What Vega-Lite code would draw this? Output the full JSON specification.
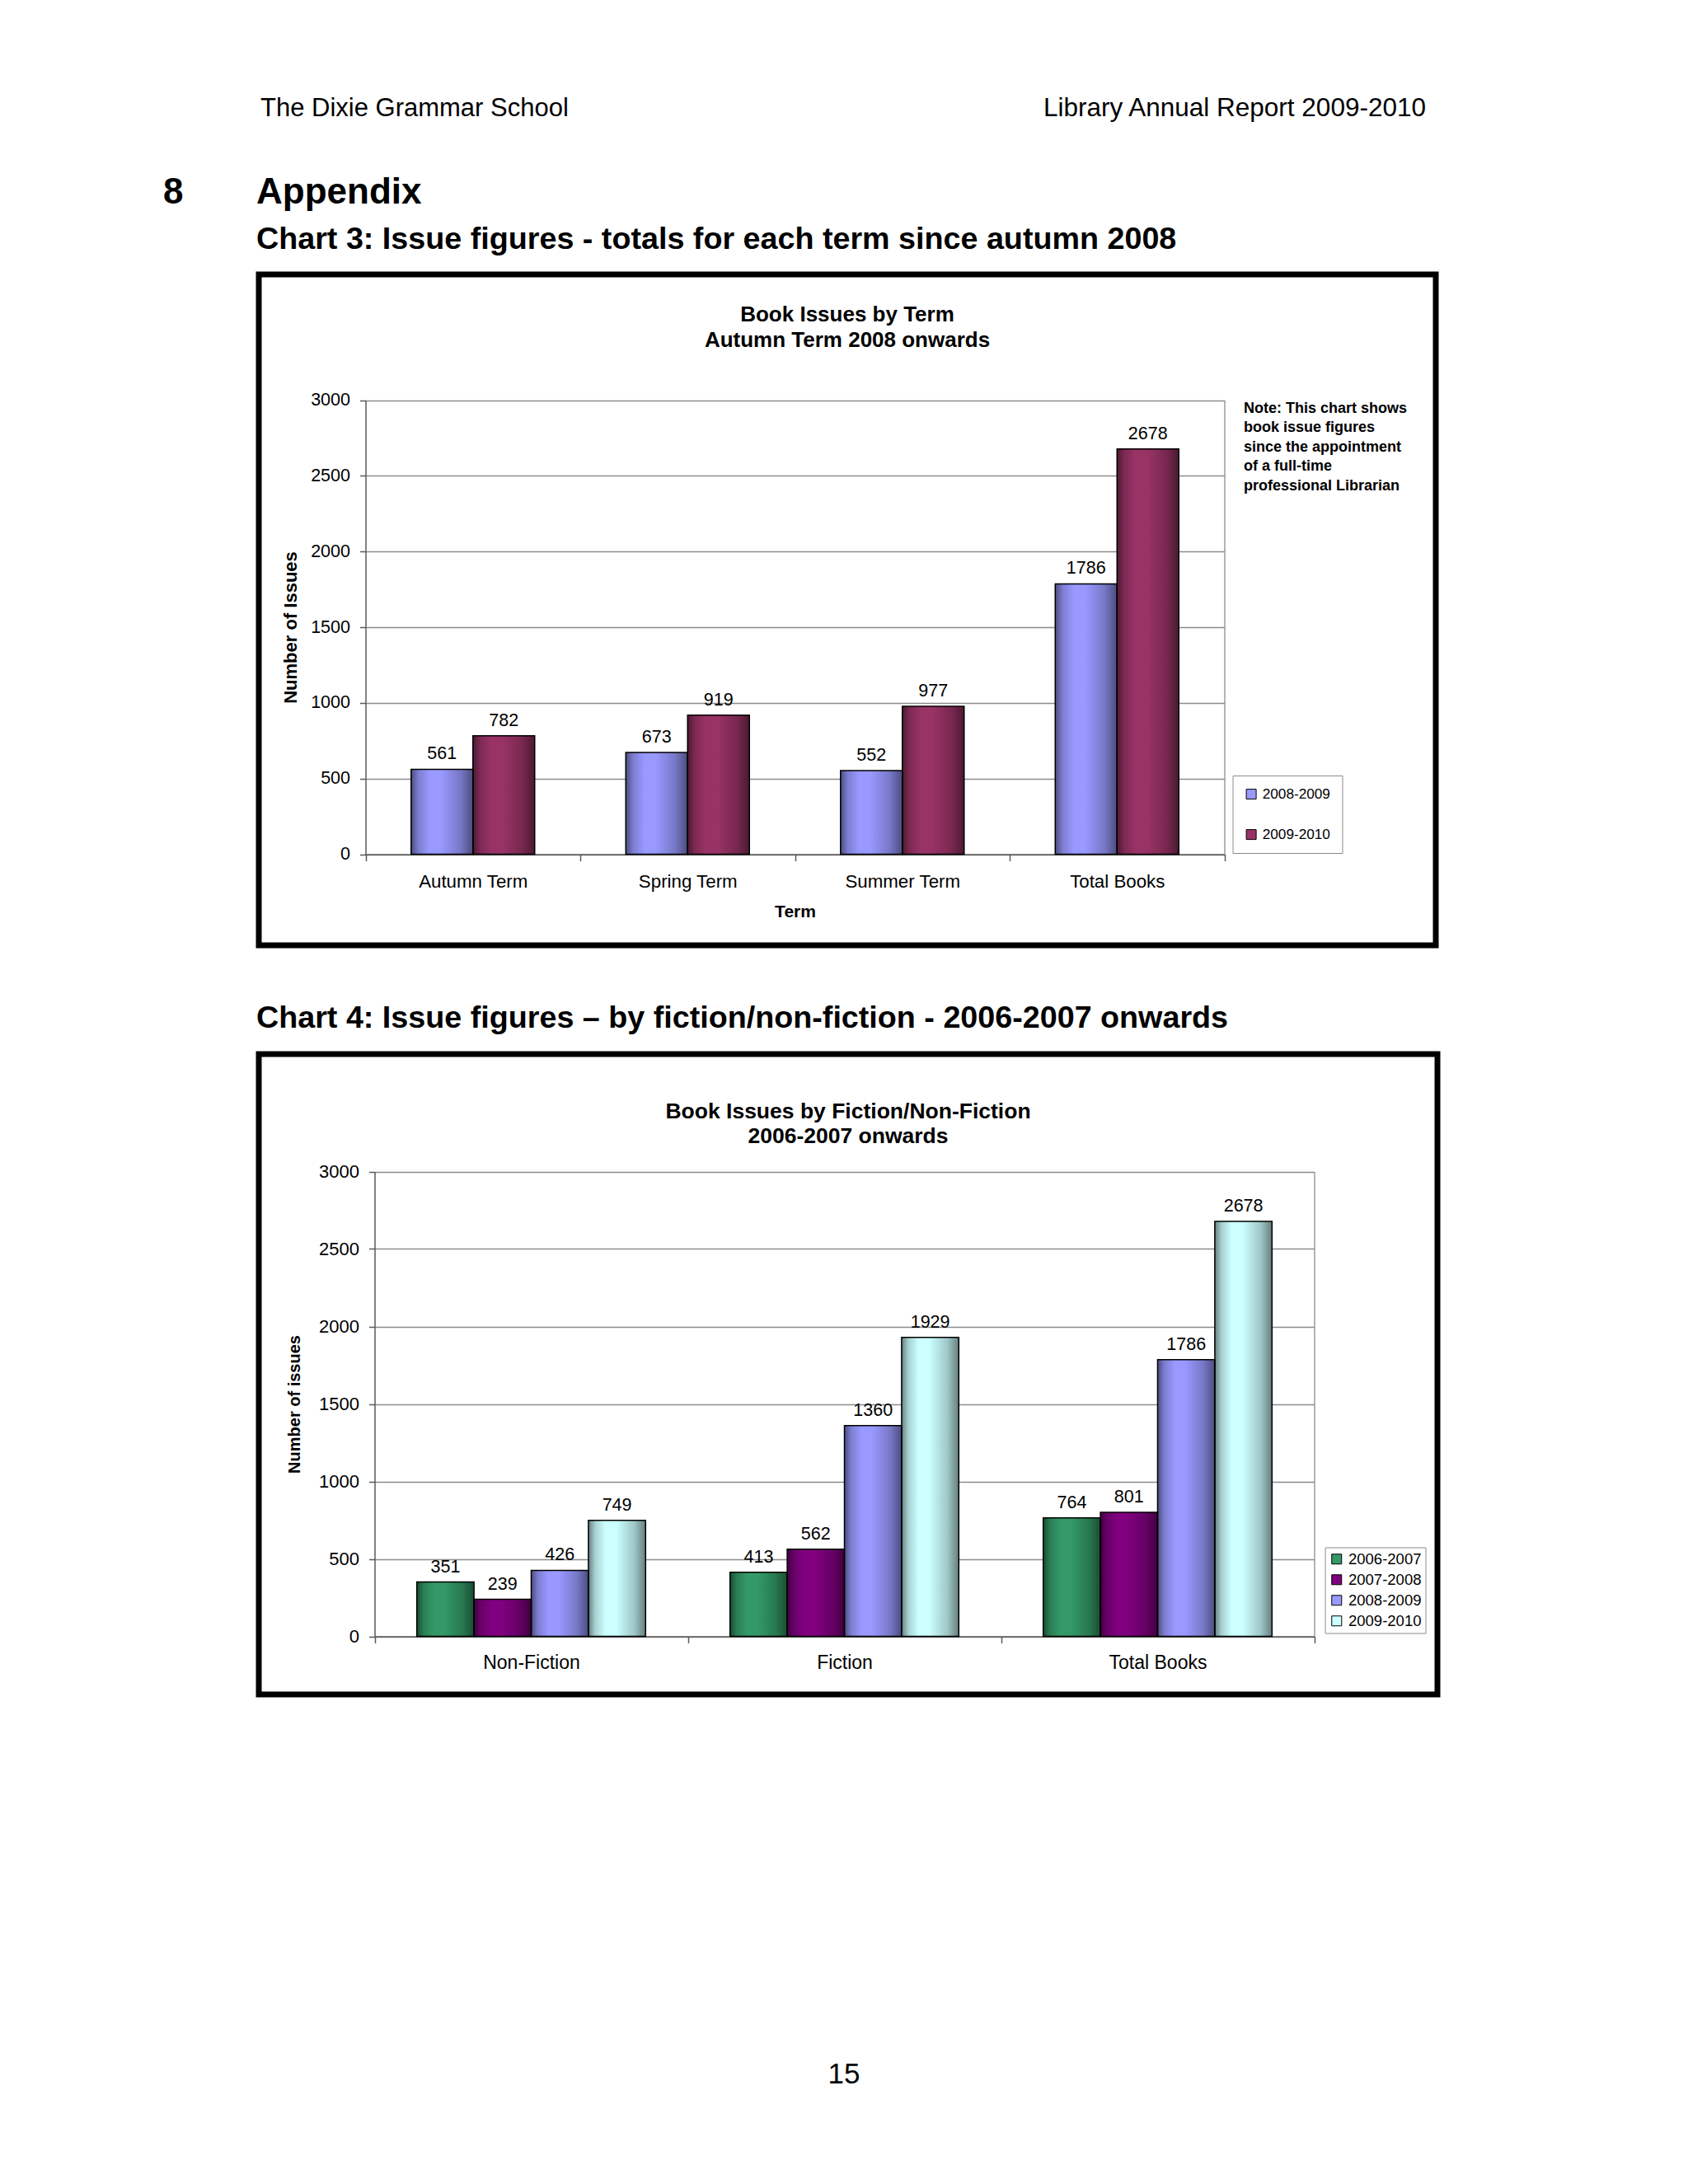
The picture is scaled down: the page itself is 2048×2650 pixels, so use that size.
{
  "$schema": "https://vega.github.io/schema/vega-lite/v6.json",
  "background": "white",
  "padding": {"left": 198, "top": 115, "right": 290, "bottom": 100},
  "bounds": "flush",
  "spacing": 0,
  "config": {
    "font": "Liberation Sans",
    "view": {"stroke": null},
    "title": {"color": "black", "frame": "group", "baseline": "alphabetic", "anchor": "start", "fontWeight": "bold"},
    "axis": {"labelColor": "black", "titleColor": "black"},
    "legend": {"labelColor": "black"}
  },
  "vconcat": [
    {
      "width": 1428, "height": 1,
      "data": {"values": []},
      "mark": "point",
      "title": {"text": "The Dixie Grammar School", "fontSize": 31, "fontWeight": "normal", "offset": 180.5, "dx": 2}
    },
    {
      "width": 1428, "height": 1,
      "data": {"values": []},
      "mark": "point",
      "title": {"text": "Library Annual Report 2009-2010", "anchor": "end", "fontSize": 31.5, "fontWeight": "normal", "offset": 181.5, "dx": -12}
    },
    {
      "width": 1428, "height": 1,
      "data": {"values": []},
      "mark": "point",
      "title": {"text": "8", "fontSize": 44, "offset": 74.5, "dx": -116}
    },
    {
      "width": 1428, "height": 1,
      "data": {"values": []},
      "mark": "point",
      "title": {"text": "Appendix", "fontSize": 44, "offset": 75.5, "dx": -3}
    },
    {
      "width": 1428, "height": 1,
      "data": {"values": []},
      "mark": "point",
      "title": {"text": "Chart 3: Issue figures - totals for each term since autumn 2008", "fontSize": 37.7, "offset": 22.5, "dx": -3}
    },
    {
      "width": 1428,
      "height": 814,
      "view": {"stroke": "black", "strokeWidth": 7},
      "title": {"text": ["Book Issues by Term", "Autumn Term 2008 onwards"], "anchor": "middle", "fontSize": 26, "lineHeight": 31, "offset": -92.5},
      "data": {
        "values": [
          {"term": "Autumn Term", "year": "2008-2009", "issues": 561},
          {"term": "Autumn Term", "year": "2009-2010", "issues": 782},
          {"term": "Spring Term", "year": "2008-2009", "issues": 673},
          {"term": "Spring Term", "year": "2009-2010", "issues": 919},
          {"term": "Summer Term", "year": "2008-2009", "issues": 552},
          {"term": "Summer Term", "year": "2009-2010", "issues": 977},
          {"term": "Total Books", "year": "2008-2009", "issues": 1786},
          {"term": "Total Books", "year": "2009-2010", "issues": 2678}
        ]
      },
      "layer": [
        {
          "mark": {"type": "bar"},
          "encoding": {
            "x": {
              "field": "term", "type": "nominal", "sort": null,
              "scale": {"domain": ["Autumn Term", "Spring Term", "Summer Term", "Total Books"], "range": [129.5, 1171.5], "paddingInner": 0, "paddingOuter": 0},
              "axis": {
                "orient": "bottom", "offset": -110.5, "tickBand": "extent", "grid": false,
                "domainColor": "#5a5a5a", "domainWidth": 1.5, "tickColor": "#5a5a5a", "tickWidth": 1.5, "tickSize": 8,
                "labelFontSize": 22.3, "labelPadding": 13.5, "labelAngle": 0,
                "title": "Term", "titleFontSize": 21, "titleFontWeight": "bold", "titlePadding": 15
              }
            },
            "xOffset": {"field": "year", "type": "nominal", "scale": {"paddingInner": 0, "paddingOuter": 0.737}},
            "y": {
              "field": "issues", "type": "quantitative",
              "scale": {"domain": [0, 3000], "range": [703.5, 152.5], "nice": false},
              "axis": {
                "orient": "left", "offset": -129.5, "values": [0, 500, 1000, 1500, 2000, 2500, 3000], "format": "d",
                "grid": true, "gridColor": "#8c8c8c", "gridWidth": 1.3,
                "domainColor": "#5a5a5a", "domainWidth": 1.5, "tickColor": "#5a5a5a", "tickWidth": 1.5, "tickSize": 7,
                "labelFontSize": 21.5, "labelPadding": 12,
                "title": "Number of Issues", "titleFontSize": 22, "titleFontWeight": "bold", "titlePadding": 12
              }
            },
            "color": {
              "field": "year", "type": "nominal",
              "scale": {"domain": ["2008-2009", "2009-2010"], "range": ["#9999FF", "#993366"]},
              "legend": {
                "orient": "none", "legendX": 1181.5, "legendY": 608, "title": null,
                "strokeColor": "#8c8c8c", "fillColor": "white", "padding": 14, "rowPadding": 31,
                "symbolType": "square", "symbolSize": 144, "symbolStrokeColor": "black", "symbolStrokeWidth": 1,
                "labelFontSize": 17.2, "labelOffset": 5
              }
            }
          }
        },
        {
          "mark": {
            "type": "bar", "stroke": "black", "strokeWidth": 1.5,
            "fill": {
              "gradient": "linear", "x1": 0, "y1": 0, "x2": 1, "y2": 0,
              "stops": [
                {"offset": 0, "color": "rgba(0,0,0,0.5)"},
                {"offset": 0.12, "color": "rgba(0,0,0,0.18)"},
                {"offset": 0.3, "color": "rgba(0,0,0,0)"},
                {"offset": 0.48, "color": "rgba(0,0,0,0)"},
                {"offset": 0.8, "color": "rgba(0,0,0,0.22)"},
                {"offset": 1, "color": "rgba(0,0,0,0.5)"}
              ]
            }
          },
          "encoding": {
            "x": {"field": "term", "type": "nominal", "sort": null},
            "xOffset": {"field": "year", "type": "nominal"},
            "y": {
              "field": "issues", "type": "quantitative",
              "axis": {"orient": "right", "offset": -256.5, "labels": false, "ticks": false, "grid": false, "title": null, "domainColor": "#8c8c8c", "domainWidth": 1.3}
            }
          }
        },
        {
          "mark": {"type": "text", "baseline": "alphabetic", "dy": -12, "fontSize": 21.5, "color": "black"},
          "encoding": {
            "x": {"field": "term", "type": "nominal", "sort": null},
            "xOffset": {"field": "year", "type": "nominal"},
            "y": {"field": "issues", "type": "quantitative", "axis": null},
            "text": {"field": "issues", "type": "quantitative"}
          }
        },
        {
          "data": {"values": [{"note": ["Note: This chart shows", "book issue figures", "since the appointment", "of a full-time", "professional Librarian"]}]},
          "mark": {"type": "text", "align": "left", "baseline": "alphabetic", "dx": 153.75, "dy": 15, "fontSize": 18, "fontWeight": "bold", "lineHeight": 23.6, "color": "black"},
          "encoding": {
            "x": {"datum": "Total Books", "type": "nominal"},
            "y": {"datum": 3000, "type": "quantitative", "axis": null},
            "text": {"field": "note", "type": "nominal"}
          }
        }
      ],
      "resolve": {"axis": {"y": "independent"}}
    },
    {
      "width": 1428, "height": 132,
      "data": {"values": []},
      "mark": "point",
      "title": {"text": "Chart 4: Issue figures – by fiction/non-fiction - 2006-2007 onwards", "fontSize": 37.7, "offset": -107.5, "dx": -3}
    },
    {
      "width": 1430,
      "height": 777,
      "view": {"stroke": "black", "strokeWidth": 7},
      "title": {"text": ["Book Issues by Fiction/Non-Fiction", "2006-2007 onwards"], "anchor": "middle", "fontSize": 26.5, "lineHeight": 30, "offset": -113},
      "data": {
        "values": [
          {"category": "Non-Fiction", "year": "2006-2007", "issues": 351},
          {"category": "Non-Fiction", "year": "2007-2008", "issues": 239},
          {"category": "Non-Fiction", "year": "2008-2009", "issues": 426},
          {"category": "Non-Fiction", "year": "2009-2010", "issues": 749},
          {"category": "Fiction", "year": "2006-2007", "issues": 413},
          {"category": "Fiction", "year": "2007-2008", "issues": 562},
          {"category": "Fiction", "year": "2008-2009", "issues": 1360},
          {"category": "Fiction", "year": "2009-2010", "issues": 1929},
          {"category": "Total Books", "year": "2006-2007", "issues": 764},
          {"category": "Total Books", "year": "2007-2008", "issues": 801},
          {"category": "Total Books", "year": "2008-2009", "issues": 1786},
          {"category": "Total Books", "year": "2009-2010", "issues": 2678}
        ]
      },
      "layer": [
        {
          "mark": {"type": "bar"},
          "encoding": {
            "x": {
              "field": "category", "type": "nominal", "sort": null,
              "scale": {"domain": ["Non-Fiction", "Fiction", "Total Books"], "range": [140.5, 1280.5], "paddingInner": 0, "paddingOuter": 0},
              "axis": {
                "orient": "bottom", "offset": -70.5, "tickBand": "extent", "grid": false,
                "domainColor": "#5a5a5a", "domainWidth": 1.5, "tickColor": "#5a5a5a", "tickWidth": 1.5, "tickSize": 8,
                "labelFontSize": 23, "labelPadding": 12.7, "labelAngle": 0,
                "title": null
              }
            },
            "xOffset": {"field": "year", "type": "nominal", "scale": {"paddingInner": 0, "paddingOuter": 0.738}},
            "y": {
              "field": "issues", "type": "quantitative",
              "scale": {"domain": [0, 3000], "range": [706.5, 142.5], "nice": false},
              "axis": {
                "orient": "left", "offset": -140.5, "values": [0, 500, 1000, 1500, 2000, 2500, 3000], "format": "d",
                "grid": true, "gridColor": "#8c8c8c", "gridWidth": 1.3,
                "domainColor": "#5a5a5a", "domainWidth": 1.5, "tickColor": "#5a5a5a", "tickWidth": 1.5, "tickSize": 7,
                "labelFontSize": 22, "labelPadding": 12,
                "title": "Number of issues", "titleFontSize": 20, "titleFontWeight": "bold", "titlePadding": 19
              }
            },
            "color": {
              "field": "year", "type": "nominal",
              "scale": {"domain": ["2006-2007", "2007-2008", "2008-2009", "2009-2010"], "range": ["#339966", "#800080", "#9999FF", "#CCFFFF"]},
              "legend": {
                "orient": "none", "legendX": 1293.5, "legendY": 598.5, "title": null,
                "strokeColor": "#8c8c8c", "fillColor": "white", "padding": 5, "rowPadding": 6,
                "symbolType": "square", "symbolSize": 144, "symbolStrokeColor": "black", "symbolStrokeWidth": 1,
                "labelFontSize": 18.5, "labelOffset": 5
              }
            }
          }
        },
        {
          "mark": {
            "type": "bar", "stroke": "black", "strokeWidth": 1.5,
            "fill": {
              "gradient": "linear", "x1": 0, "y1": 0, "x2": 1, "y2": 0,
              "stops": [
                {"offset": 0, "color": "rgba(0,0,0,0.5)"},
                {"offset": 0.12, "color": "rgba(0,0,0,0.18)"},
                {"offset": 0.3, "color": "rgba(0,0,0,0)"},
                {"offset": 0.48, "color": "rgba(0,0,0,0)"},
                {"offset": 0.8, "color": "rgba(0,0,0,0.22)"},
                {"offset": 1, "color": "rgba(0,0,0,0.5)"}
              ]
            }
          },
          "encoding": {
            "x": {"field": "category", "type": "nominal", "sort": null},
            "xOffset": {"field": "year", "type": "nominal"},
            "y": {
              "field": "issues", "type": "quantitative",
              "axis": {"orient": "right", "offset": -149.5, "labels": false, "ticks": false, "grid": false, "title": null, "domainColor": "#8c8c8c", "domainWidth": 1.3}
            }
          }
        },
        {
          "mark": {"type": "text", "baseline": "alphabetic", "dy": -12, "fontSize": 21.5, "color": "black"},
          "encoding": {
            "x": {"field": "category", "type": "nominal", "sort": null},
            "xOffset": {"field": "year", "type": "nominal"},
            "y": {"field": "issues", "type": "quantitative", "axis": null},
            "text": {"field": "issues", "type": "quantitative"}
          }
        }
      ],
      "resolve": {"axis": {"y": "independent"}}
    },
    {
      "width": 1428, "height": 1,
      "data": {"values": []},
      "mark": "point",
      "title": {"text": "15", "anchor": "middle", "fontSize": 35, "fontWeight": "normal", "offset": -479.2, "dx": -4}
    }
  ],
  "resolve": {"scale": {"color": "independent", "xOffset": "independent", "x": "independent", "y": "independent"}}
}
